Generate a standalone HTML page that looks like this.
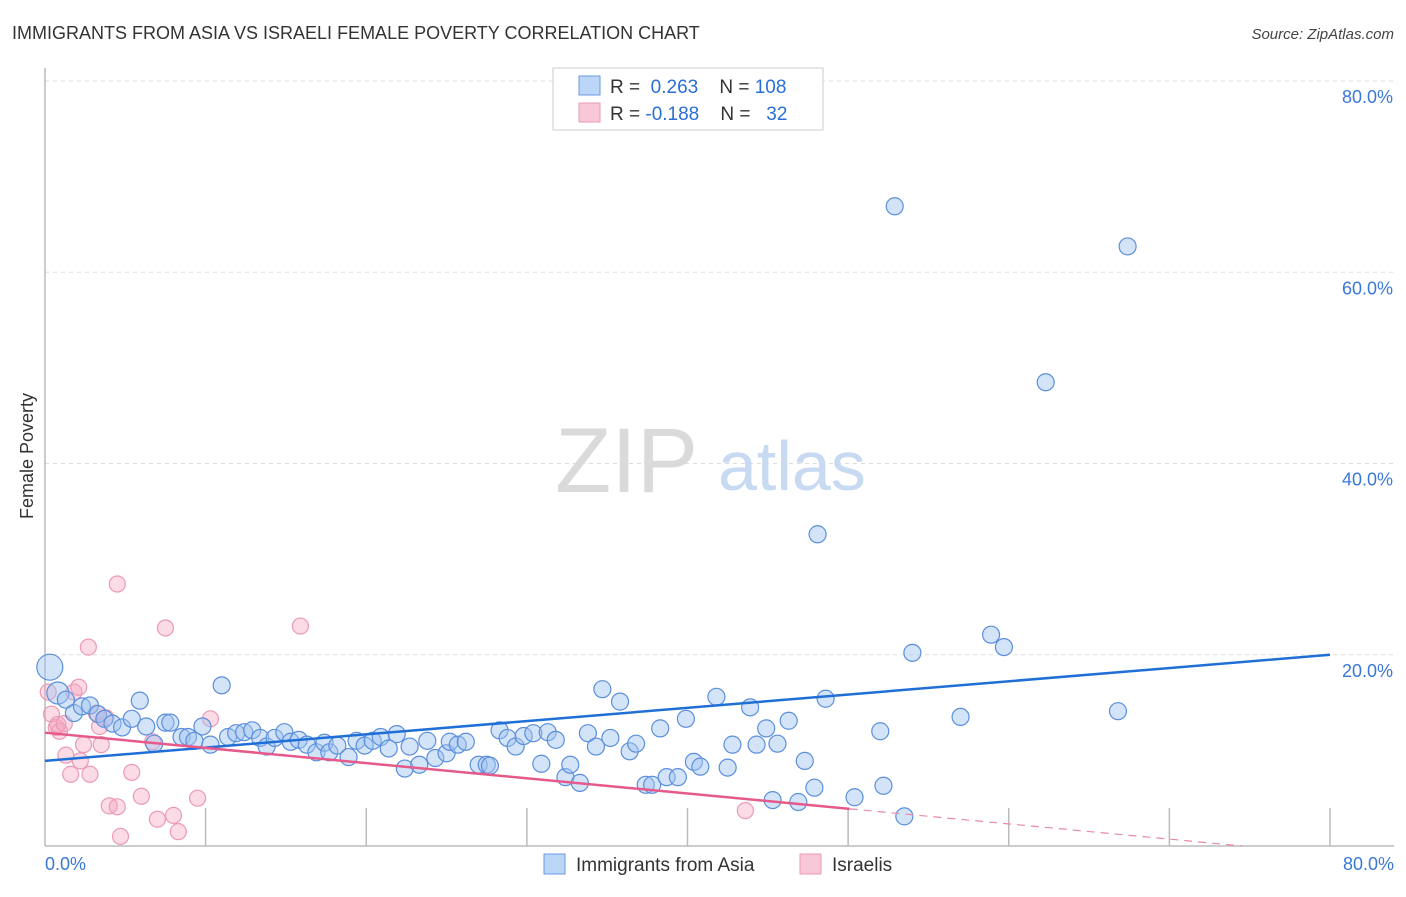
<!DOCTYPE html>
<html><head><meta charset="utf-8"><style>
body{margin:0;background:#fff;font-family:"Liberation Sans",sans-serif}
svg text{font-family:"Liberation Sans",sans-serif}
</style></head><body>
<svg id="chart" width="1406" height="892" viewBox="0 0 1406 892" xmlns="http://www.w3.org/2000/svg">
<text x="12" y="39" font-size="18" fill="#333">IMMIGRANTS FROM ASIA VS ISRAELI FEMALE POVERTY CORRELATION CHART</text>
<text x="1394" y="39" font-size="15" fill="#444" font-style="italic" text-anchor="end">Source: ZipAtlas.com</text>
<g id="grid"></g>
<g><text x="555" y="492" font-size="92" fill="#dadada" font-family="Liberation Serif">ZIP</text><text x="718" y="490" font-size="70" fill="#c8daf2">atlas</text></g>
<line x1="45" y1="68" x2="45" y2="846" stroke="#bbb" stroke-width="1.5"/>
<line x1="45" y1="846" x2="1394" y2="846" stroke="#bbb" stroke-width="1.5"/>
<g id="ticks"></g>
<g id="points"></g>
<g id="lines"></g>
<text transform="translate(33,456) rotate(-90)" font-size="18" fill="#333" text-anchor="middle">Female Poverty</text>
<text x="45" y="870" font-size="18" fill="#3a78d8">0.0%</text>
<text x="1394" y="870" font-size="18" fill="#3a78d8" text-anchor="end">80.0%</text>
<g>
<rect x="553" y="68" width="270" height="62" fill="#fff" stroke="#ccc"/>
<rect x="579" y="76" width="21" height="19" fill="#bcd6f7" stroke="#6a9ae0"/>
<rect x="579" y="103" width="21" height="19" fill="#f9c8d8" stroke="#ec9ab4"/>
<text x="610" y="93" font-size="19" fill="#333">R = <tspan fill="#2a6fd6">&#160;0.263</tspan>&#160;&#160;&#160; N = <tspan fill="#2a6fd6">108</tspan></text>
<text x="610" y="120" font-size="19" fill="#333">R = <tspan fill="#2a6fd6">-0.188</tspan>&#160;&#160;&#160; N = <tspan fill="#2a6fd6">&#160;&#160;32</tspan></text>
</g>
<g>
<rect x="544" y="854" width="21" height="20" fill="#bcd6f7" stroke="#6a9ae0"/>
<text x="576" y="871" font-size="19" fill="#333">Immigrants from Asia</text>
<rect x="800" y="854" width="21" height="20" fill="#f9c8d8" stroke="#ec9ab4"/>
<text x="832" y="871" font-size="19" fill="#333">Israelis</text>
</g>
</svg>
<script>
const yTicks=[20,40,60,80];
const xTickVals=[10,20,30,40,50,60,70,80];
const asiaX=[0.3,0.8,1.3,1.8,2.3,2.8,3.3,3.7,4.2,4.8,5.9,5.4,6.3,6.8,7.5,7.8,8.5,8.9,9.3,10.3,9.8,11.0,11.4,11.9,12.4,12.9,13.4,13.8,14.3,14.9,15.3,15.8,16.3,16.9,17.4,17.7,18.2,18.9,19.4,19.9,20.4,20.9,21.4,21.9,22.7,22.4,23.3,23.8,24.3,25.0,25.2,25.7,26.2,27.0,27.5,27.7,28.3,28.8,29.3,29.8,30.4,31.3,31.8,30.9,32.4,32.7,33.3,33.8,34.3,34.7,35.2,35.8,36.4,36.8,37.4,37.8,38.3,38.7,39.4,39.9,40.4,40.8,41.8,42.5,42.8,43.9,44.3,44.9,45.3,45.6,46.3,46.9,47.3,47.9,48.6,50.4,52.0,52.2,53.5,54.0,57.0,58.9,59.7,66.8,48.1,62.3,67.4,52.9];
const asiaY=[18.7,16.0,15.3,13.9,14.6,14.7,13.8,13.3,12.8,12.4,15.2,13.3,12.5,10.7,12.9,12.9,11.4,11.4,11.0,10.6,12.5,16.8,11.4,11.8,11.9,12.1,11.3,10.4,11.3,11.9,10.9,11.1,10.6,9.8,10.8,9.8,10.5,9.3,11.0,10.5,11.0,11.4,10.2,11.7,10.4,8.1,8.5,11.0,9.2,9.7,10.9,10.6,10.9,8.5,8.5,8.4,12.1,11.3,10.4,11.5,11.8,11.9,11.1,8.6,7.2,8.5,6.6,11.8,10.4,16.4,11.3,15.1,9.9,10.7,6.4,6.4,12.3,7.2,7.2,13.3,8.8,8.3,15.6,8.2,10.6,14.5,10.6,12.3,4.8,10.7,13.1,4.6,8.9,6.1,15.4,5.1,12.0,6.3,3.1,20.2,13.5,22.1,20.8,14.1,32.6,48.5,62.7,66.9];
const israelX=[0.2,0.4,0.7,0.9,0.8,1.2,1.3,1.6,1.8,2.1,2.2,2.4,2.8,3.2,3.4,3.8,3.5,4.0,4.5,4.7,5.4,6.0,6.7,7.0,7.5,8.0,8.3,9.5,10.3,4.5,2.7,15.9,43.6];
const israelY=[16.1,13.8,12.4,12.0,12.7,12.8,9.5,7.5,16.1,16.6,8.9,10.6,7.5,13.9,12.5,13.4,10.6,4.2,4.1,1.0,7.7,5.2,10.9,2.8,22.8,3.2,1.5,5.0,13.3,27.4,20.8,23.0,3.7];
const asiaFit=[8.9,20.0];
const israelFit=[11.85,-0.159];
const israelSolidEnd=50.1;

const NS="http://www.w3.org/2000/svg";
const X0=45,X1=1330,Y0=846,Y80=81;
function sx(v){return X0+(X1-X0)*v/80;}
function sy(v){return Y0-(Y0-Y80)*v/80;}
function mk(tag,attrs,parent){const e=document.createElementNS(NS,tag);for(const k in attrs)e.setAttribute(k,attrs[k]);parent.appendChild(e);return e;}
const grid=document.getElementById('grid');
yTicks.forEach(t=>{
  const l=mk('line',{x1:X0,x2:1394,y1:sy(t),y2:sy(t),stroke:'#ddd','stroke-dasharray':'4,4'},grid);
  
  
  const tx=mk('text',{x:1393,y:sy(t)+22,'font-size':18,fill:'#3a78d8','text-anchor':'end'},grid);
  tx.textContent=t.toFixed(1)+'%';
  
  
});
const ticks=document.getElementById('ticks');
xTickVals.forEach(t=>{
  const l=mk('line',{x1:sx(t),x2:sx(t),y1:808,y2:846,stroke:'#bbb','stroke-width':1.5},ticks);
  
  
});
const pts=document.getElementById('points');
israelX.forEach((x,i)=>{
  const c=mk('circle',{cx:sx(x),cy:sy(israelY[i]),r:8,fill:'rgba(245,165,192,0.4)',stroke:'#ec9ab4','stroke-width':1.2},pts);
  
  
});
asiaX.forEach((x,i)=>{
  const r=i===0?13:(i===1?11:8.5);
  const c=mk('circle',{cx:sx(x),cy:sy(asiaY[i]),r:r,fill:'rgba(160,196,240,0.45)',stroke:'#5b8fdc','stroke-width':1.2},pts);
  
  
});
const lines=document.getElementById('lines');
const bl=mk('line',{x1:sx(0),y1:sy(asiaFit[0]),x2:sx(80),y2:sy(asiaFit[1]),stroke:'#1f6fd6','stroke-width':2.5},lines);


function py(x){return israelFit[0]+israelFit[1]*x;}
const pl=mk('line',{x1:sx(0),y1:sy(py(0)),x2:sx(israelSolidEnd),y2:sy(py(israelSolidEnd)),stroke:'#e55a8a','stroke-width':2.5},lines);


const xEnd=Math.min(80,-israelFit[0]/israelFit[1]);
const pd=mk('line',{x1:sx(israelSolidEnd),y1:sy(py(israelSolidEnd)),x2:sx(xEnd),y2:sy(py(xEnd)),stroke:'#e88aa8','stroke-width':1.2,'stroke-dasharray':'8,6'},lines);


</script>
</body></html>
